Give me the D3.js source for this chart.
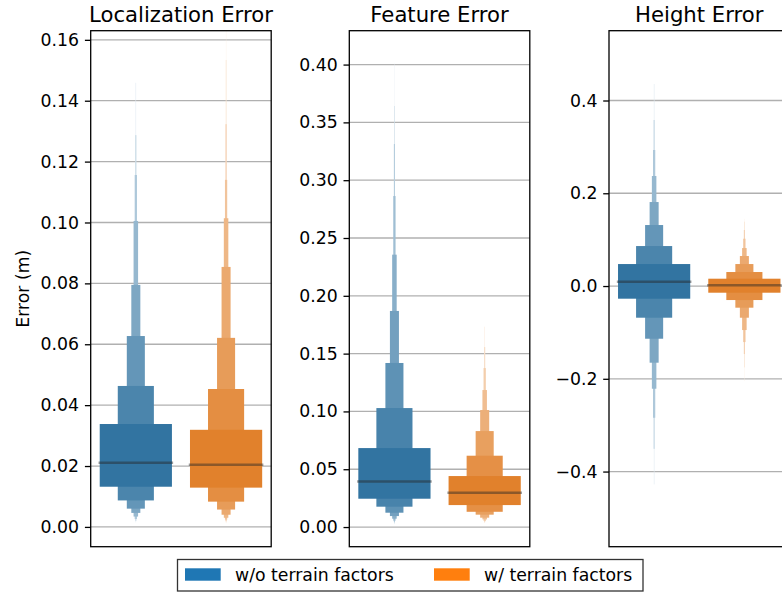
<!DOCTYPE html>
<html>
<head>
<meta charset="utf-8">
<script src="https://cdn.jsdelivr.net/npm/d3@7"></script>
<style>
    body { margin: 0; background: #fff; }
    svg { display: block; font-family: "DejaVu Sans", sans-serif; }
</style>
</head>
<body>
<svg width="782" height="593"></svg>
<script>
const groups = ["w/o terrain factors", "w/ terrain factors"];
const titles = ["Localization Error", "Feature Error", "Height Error"];

const locTicks = [0, 0.02, 0.04, 0.06, 0.08, 0.10, 0.12, 0.14, 0.16];
const featTicks = [0, 0.05, 0.10, 0.15, 0.20, 0.25, 0.30, 0.35, 0.40];
const heightTicks = [-0.4, -0.2, 0, 0.2, 0.4];

// letter-value boxes, innermost box first
const locWithoutUpper = [0.0338, 0.0463, 0.0627, 0.0795, 0.1005, 0.1156, 0.1287, 0.1459];
const locWithoutLower = [0.0132, 0.0087, 0.0060, 0.0046, 0.0034, 0.0026, 0.0020, 0.0015];
const locWithoutMedian = 0.0211;
const locWithUpper = [0.0319, 0.0453, 0.0621, 0.0854, 0.1014, 0.1140, 0.1323, 0.1534, 0.1650];
const locWithLower = [0.0129, 0.0083, 0.0057, 0.0040, 0.0030, 0.0024, 0.0019, 0.0015, 0.0012];
const locWithMedian = 0.0204;

const featWithoutUpper = [0.0683, 0.1029, 0.1419, 0.1869, 0.2356, 0.2863, 0.3313, 0.3642, 0.4010];
const featWithoutLower = [0.0245, 0.0176, 0.0124, 0.0095, 0.0072, 0.0055, 0.0042, 0.0032, 0.0025];
const featWithoutMedian = 0.0395;
const featWithUpper = [0.0441, 0.0617, 0.0830, 0.1012, 0.1185, 0.1375, 0.1557, 0.1733];
const featWithLower = [0.0190, 0.0132, 0.0107, 0.0081, 0.0066, 0.0052, 0.0042, 0.0035];
const featWithMedian = 0.0297;

const heightWithoutUpper = [0.0474, 0.0862, 0.1315, 0.1811, 0.2372, 0.2933, 0.3580, 0.4356];
const heightWithoutLower = [-0.0273, -0.0683, -0.1136, -0.1653, -0.2214, -0.2840, -0.3510, -0.4278];
const heightWithoutMedian = 0.0093;
const heightWithUpper = [0.0158, 0.0302, 0.0474, 0.0647, 0.0819, 0.1020, 0.1208, 0.1387, 0.1450];
const heightWithLower = [-0.0144, -0.0302, -0.0467, -0.0683, -0.0949, -0.1208, -0.1466, -0.1754, -0.2050];
const heightWithMedian = 0.0015;

(function() {
    'use strict';
    let svg = d3.select("svg");

    let panelLefts = [90.7, 349.3, 609];
    let panelWidth = 180.5;
    let top = 30.7, bottom = 546.7;
    let tickFont = 17.3, titleFont = 21.2;
    let boxColors = ["#3274a1", "#e1812c"];
    let legendColors = ["#1f77b4", "#ff7f0e"];

    let panels = [
        {domain: [-0.0065, 0.163], ticks: locTicks, fmt: d3.format(".2f"),
         boxes: [[locWithoutLower, locWithoutUpper, locWithoutMedian], [locWithLower, locWithUpper, locWithMedian]]},
        {domain: [-0.017, 0.4293], ticks: featTicks, fmt: d3.format(".2f"),
         boxes: [[featWithoutLower, featWithoutUpper, featWithoutMedian], [featWithLower, featWithUpper, featWithMedian]]},
        {domain: [-0.562, 0.5505], ticks: heightTicks, fmt: d3.format(".1f"),
         boxes: [[heightWithoutLower, heightWithoutUpper, heightWithoutMedian], [heightWithLower, heightWithUpper, heightWithMedian]]}
    ];

    panels.forEach(function(p, pi) {
        let left = panelLefts[pi];
        let y = d3.scaleLinear().domain(p.domain).range([bottom - top, 0]);
        let x = d3.scaleBand().domain(groups).range([0, panelWidth]);
        let g = svg.append("g").attr("transform", `translate(${left},${top})`);

        g.append("clipPath").attr("id", "clip" + pi)
            .append("rect").attr("width", panelWidth).attr("height", bottom - top);

        // grid
        g.selectAll(".grid").data(p.ticks).enter().append("line")
            .attr("x1", 0).attr("x2", panelWidth)
            .attr("y1", d => y(d)).attr("y2", d => y(d))
            .attr("stroke", "#b0b0b0").attr("stroke-width", 1.3);

        let plot = g.append("g").attr("clip-path", `url(#clip${pi})`);
        p.boxes.forEach(function(b, gi) {
            let lower = b[0], upper = b[1], median = b[2];
            let n = upper.length;
            let cx = x(groups[gi]) + x.bandwidth() / 2;
            let full = x.bandwidth() * 0.8;
            let levels = d3.range(n).reverse();
            plot.selectAll(null).data(levels).enter().append("rect")
                .attr("x", i => cx - full * Math.pow(2, -i) / 2)
                .attr("width", i => full * Math.pow(2, -i))
                .attr("y", i => y(upper[i]))
                .attr("height", i => y(lower[i]) - y(upper[i]))
                .attr("fill", i => d3.interpolateRgb(boxColors[gi], "#fff")(0.85 * (n > 1 ? i / (n - 1) : 0)));
            plot.append("line")
                .attr("x1", cx - full / 2 - 1.2).attr("x2", cx + full / 2 + 1.2)
                .attr("y1", y(median)).attr("y2", y(median))
                .attr("stroke", "#262626").attr("stroke-opacity", 0.45).attr("stroke-width", 2.5);
        });

        let axis = g.append("g").call(d3.axisLeft(y).tickValues(p.ticks).tickFormat(p.fmt).tickSize(5.8).tickPadding(5.8));
        axis.select(".domain").remove();
        axis.selectAll("line").attr("stroke", "#000").attr("stroke-width", 1.3);
        axis.selectAll("text").attr("fill", "#000").style("font-size", tickFont + "px").style("font-family", "DejaVu Sans");

        g.append("rect").attr("width", panelWidth).attr("height", bottom - top)
            .attr("fill", "none").attr("stroke", "#000").attr("stroke-width", 1.3);

        g.append("text")
            .attr("x", panelWidth / 2).attr("y", -8.7)
            .attr("text-anchor", "middle")
            .style("font-size", titleFont + "px")
            .text(titles[pi]);
    });

    svg.append("text")
        .attr("text-anchor", "middle")
        .attr("transform", `translate(29,${(top + bottom) / 2})rotate(-90)`)
        .style("font-size", tickFont + "px")
        .text("Error (m)");

    // legend
    let legend = svg.append("g").attr("transform", "translate(177.5,559.5)");
    legend.append("rect").attr("width", 465.5).attr("height", 31.5)
        .attr("fill", "#fff").attr("stroke", "#333").attr("stroke-width", 1.3);
    let itemX = [7.5, 256.5];
    groups.forEach(function(name, i) {
        legend.append("rect").attr("x", itemX[i]).attr("y", 8.8)
            .attr("width", 35.7).attr("height", 12.4).attr("fill", legendColors[i]);
        legend.append("text").attr("x", itemX[i] + 50).attr("y", 21.8)
            .style("font-size", tickFont + "px").text(name);
    });
})();
</script>
</body>
</html>
